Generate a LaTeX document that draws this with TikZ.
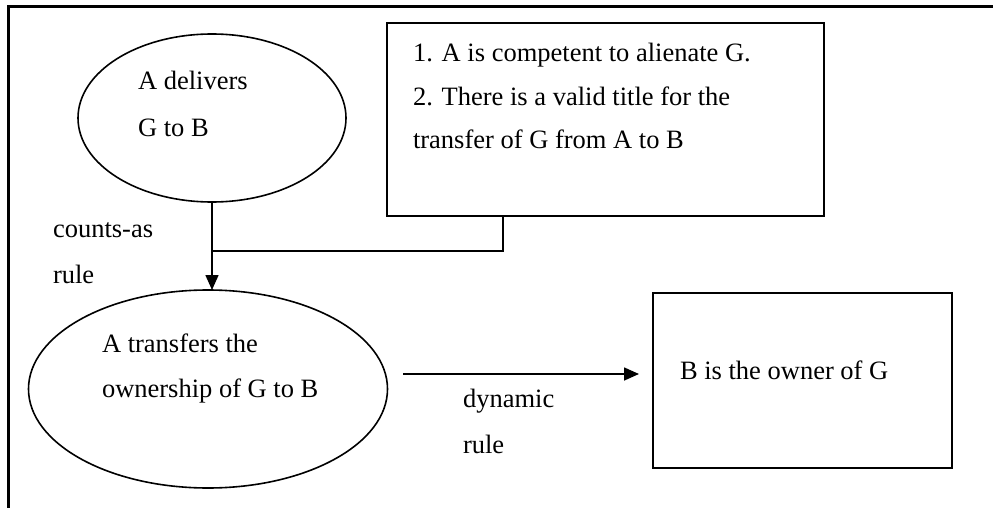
\documentclass[tikz,border=0pt]{standalone}
\usepackage{fontspec}
\setmainfont{Liberation Serif}
\usetikzlibrary{arrows.meta,shapes.geometric}
\begin{document}
\begin{tikzpicture}[x=1pt,y=-1pt,
  every node/.style={inner sep=0pt,outer sep=0pt},
  lbl/.style={anchor=base west,font=\fontsize{26.5}{30}\selectfont},
  shapeline/.style={draw,line width=1.6pt},
  oval/.style={ellipse,shapeline},
  conn/.style={line width=1.6pt},
  tip/.style={-{Triangle[length=15pt,width=13pt]}}]
\useasboundingbox (0,0) rectangle (993,508);
% outer frame (partially visible)
\draw[line width=2.6pt] (8.5,520) -- (8.5,6.5) -- (1000,6.5);
% shapes
\node[oval,minimum width=268,minimum height=168] (e1) at (212,118) {};
\node[oval,minimum width=359,minimum height=198] (e2) at (208,389) {};
\node[shapeline,minimum width=437,minimum height=193] (b1) at (605.5,119.5) {};
\node[shapeline,minimum width=299,minimum height=175] (b2) at (802.5,380.5) {};
% texts
\node[lbl] (t1) at (138,90) {A delivers};
\node[lbl] (t2) at (138,137) {G to B};
\node[lbl] (t3) at (413,62) {1. A is competent to alienate G.};
\node[lbl] (t4) at (413,106) {2. There is a valid title for the};
\node[lbl] (t5) at (413,149) {transfer of G from A to B};
\node[lbl] (t6) at (53,237) {counts-as};
\node[lbl] (t7) at (53,283) {rule};
\node[lbl] (t8) at (102,352) {A transfers the};
\node[lbl] (t9) at (102,397) {ownership of G to B};
\node[lbl] (t10) at (463,407) {dynamic};
\node[lbl] (t11) at (463,453) {rule};
\node[lbl] (t12) at (680,379) {B is the owner of G};
% connectors
\coordinate (j) at (e1.south |- 0,251);
\coordinate (ds) at (403,374);
\coordinate (de) at (639,374);
\draw[conn,tip] (e1.south) -- (e1.south |- e2.north);
\draw[conn] (b1.south -| 503,0) -- (503,251) -- (j);
\draw[conn,tip] (ds) -- (de);
\end{tikzpicture}
\end{document}
